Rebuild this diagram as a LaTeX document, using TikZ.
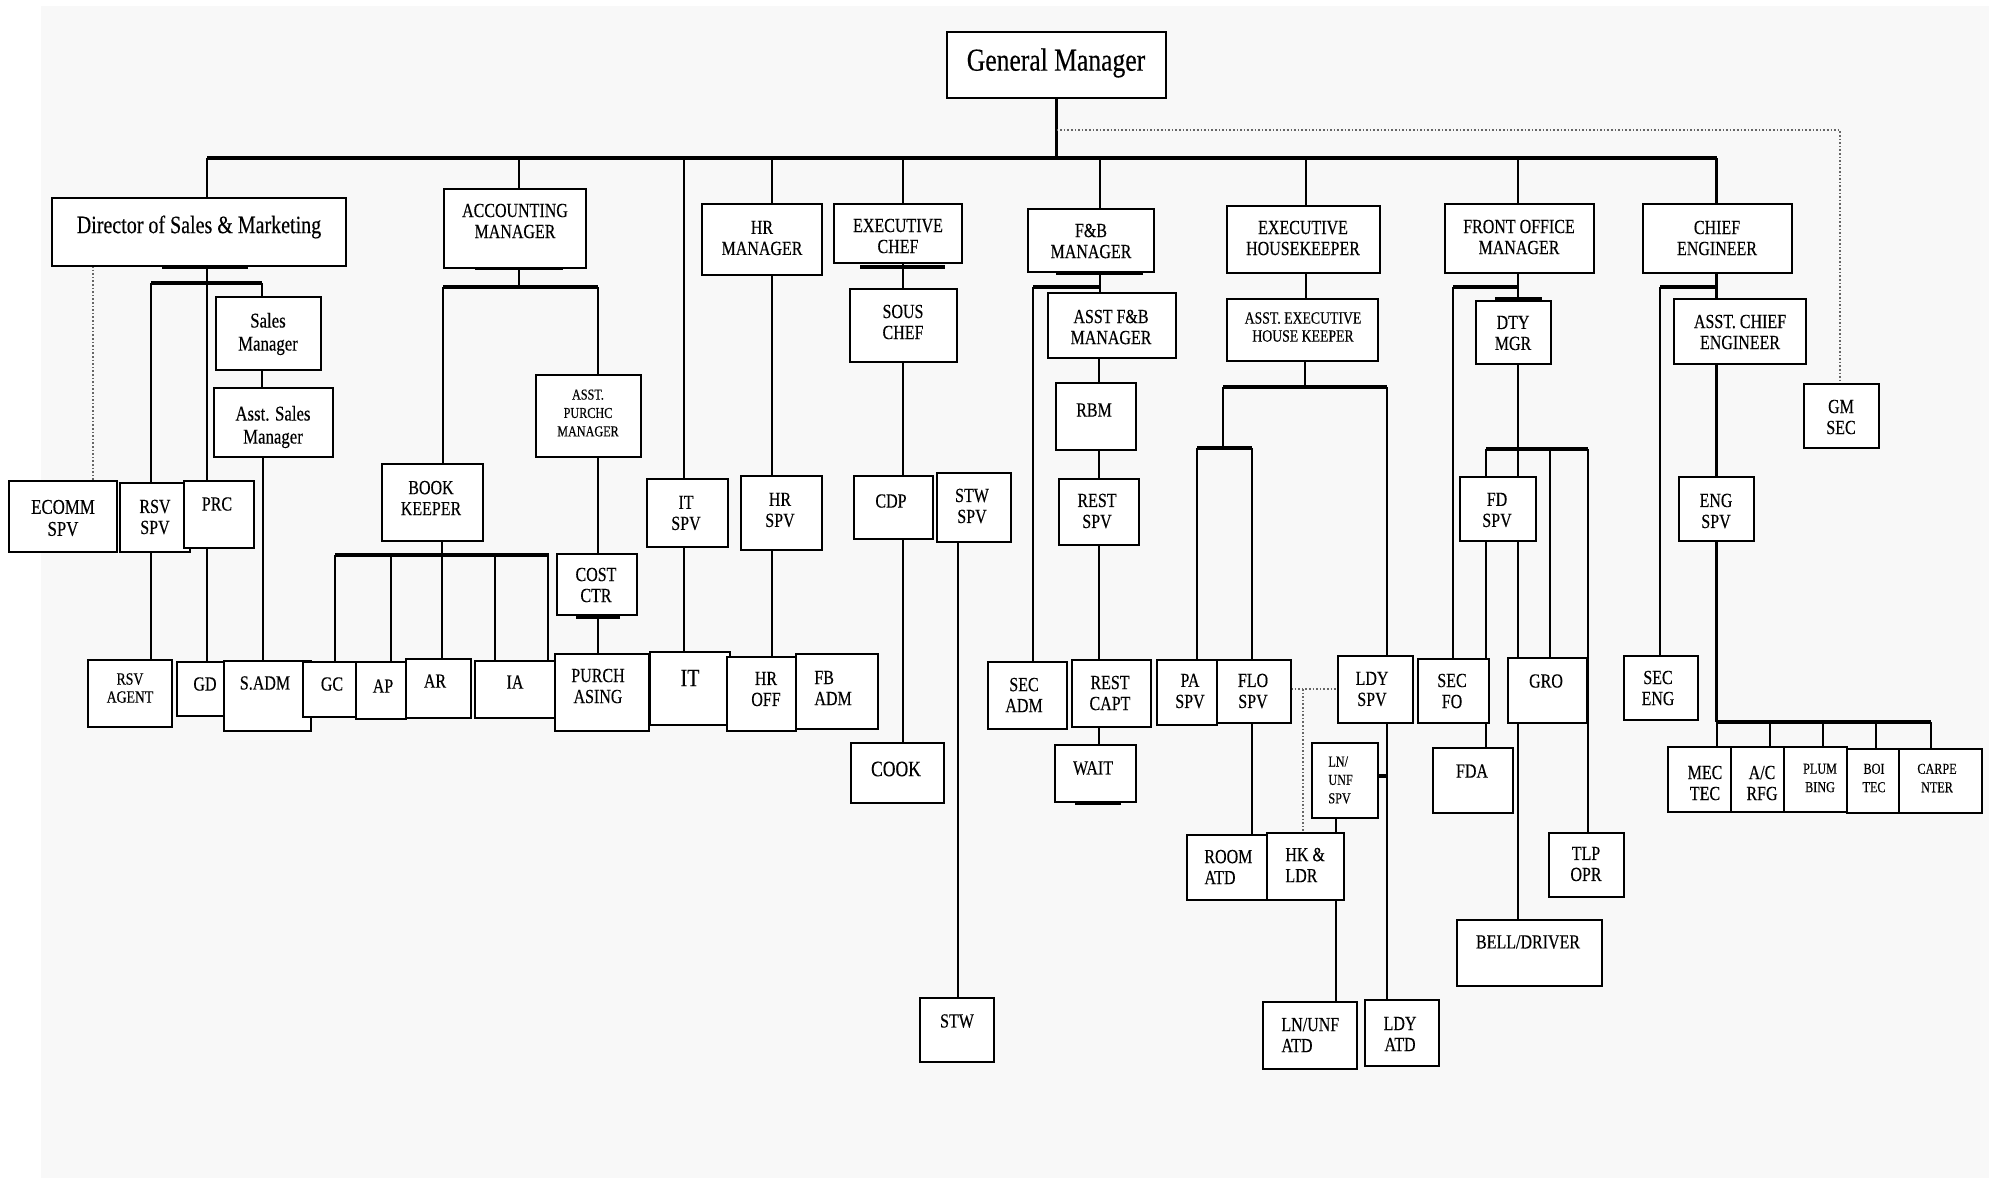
\documentclass[tikz,border=0pt]{standalone}
\usepackage{fontspec}
\setmainfont{Liberation Serif}[FakeStretch=0.8,FakeBold=0.3]
\pgfdeclarelayer{back}
\pgfdeclarelayer{wires}
\pgfsetlayers{back,wires,main}
\definecolor{bgc}{RGB}{248,248,248}
\tikzset{
 box/.style={draw=black,line width=1pt,fill=white,inner sep=0pt,outer sep=0pt,rectangle},
 lbl/.style={inner sep=0pt,align=center,font=\fontsize{10}{10.5}\selectfont},
 sml/.style={font=\fontsize{8.6}{9}\selectfont},
 tny/.style={font=\fontsize{7.6}{9.2}\selectfont},
 lft/.style={align=left,anchor=west},
 ln/.style={line width=1.3pt},
 busln/.style={line width=1.8pt},
 bar/.style={line width=2.3pt},
 dot/.style={line width=0.8pt,densely dotted,black!60},
}
\newcommand\bx[9][]{%
  \pgfmathsetmacro\bxw{(#5-#3)*0.5}%
  \pgfmathsetmacro\bxh{(#6-#4)*0.5}%
  \node[box,minimum width=\bxw pt,minimum height=\bxh pt] (#2) at ({(#3+#5)/2},{(#4+#6)/2}) {};%
  \node[lbl,#1] (#2-t) at (#7,#8) {#9};%
}
\begin{document}
\begin{tikzpicture}[x=0.5pt,y=-0.5pt]
\useasboundingbox (0,0) rectangle (1989,1180);
\begin{pgfonlayer}{back}
\fill[white] (0,0) rectangle (1989,1180);
\fill[bgc] (41,6) rectangle (1989,1178);
\end{pgfonlayer}
% top level
\bx[font=\fontsize{16}{17}\selectfont]{gm}{947}{32}{1166}{98}{1056}{63}{General Manager}
\bx[font=\fontsize{12.5}{13}\selectfont]{dsm}{52}{198}{346}{266}{199}{227}{Director of Sales \& Marketing}
\bx{acc}{444}{189}{586}{268}{515}{221}{ACCOUNTING\\MANAGER}
\bx{hrm}{702}{204}{822}{275}{762}{238}{HR\\MANAGER}
\bx{chef}{834}{204}{962}{263}{898}{236}{EXECUTIVE\\CHEF}
\bx{fbm}{1028}{209}{1154}{272}{1091}{241}{F\&B\\MANAGER}
\bx{exhk}{1227}{206}{1380}{273}{1303}{238}{EXECUTIVE\\HOUSEKEEPER}
\bx{fom}{1445}{204}{1594}{273}{1519}{237}{FRONT OFFICE\\MANAGER}
\bx{ce}{1643}{204}{1792}{273}{1717}{238}{CHIEF\\ENGINEER}
\bx{gmsec}{1804}{384}{1879}{448}{1841}{417}{GM\\SEC}
% sales
\bx[font=\fontsize{10.5}{11.5}\selectfont]{sm}{216}{297}{321}{370}{268}{334}{Sales\\Manager}
\bx[font=\fontsize{10.5}{11.5}\selectfont]{asm}{214}{388}{333}{457}{273}{427}{Asst. Sales\\Manager}
\bx[font=\fontsize{10.5}{11}\selectfont]{ecomm}{9}{481}{117}{552}{63}{518}{ECOMM\\SPV}
\bx{rsvspv}{120}{483}{190}{552}{155}{517}{RSV\\SPV}
\bx{prc}{184}{481}{254}{548}{217}{504}{PRC}
\bx[sml]{rsvag}{88}{660}{172}{727}{130}{688}{RSV\\AGENT}
\bx{gd}{177}{662}{228}{716}{205}{684}{GD}
\bx{sadm}{224}{661}{311}{731}{265}{683}{S.ADM}
% accounting
\bx{gc}{303}{662}{356}{717}{332}{684}{GC}
\bx{ap}{356}{662}{406}{719}{383}{686}{AP}
\bx{ar}{406}{659}{471}{718}{435}{681}{AR}
\bx{ia}{475}{661}{555}{718}{515}{682}{IA}
\bx{purch}{555}{654}{649}{731}{598}{686}{PURCH\\ASING}
\bx[tny]{apm}{536}{375}{641}{457}{588}{413}{ASST.\\PURCHC\\MANAGER}
\bx{bk}{382}{464}{483}{541}{431}{498}{BOOK\\KEEPER}
\bx{cost}{557}{554}{637}{615}{596}{585}{COST\\CTR}
% IT, HR
\bx{itspv}{647}{479}{728}{547}{686}{513}{IT\\SPV}
\bx[font=\fontsize{12.5}{13}\selectfont]{it}{650}{652}{730}{725}{690}{678}{IT}
\bx{hrspv}{741}{476}{822}{550}{780}{510}{HR\\SPV}
\bx{hroff}{727}{657}{796}{731}{766}{689}{HR\\OFF}
\bx[lft]{fbadm}{796}{654}{878}{729}{814}{688}{FB\\ADM}
% kitchen
\bx{sous}{850}{289}{957}{362}{903}{322}{SOUS\\CHEF}
\bx{cdp}{854}{476}{933}{539}{891}{501}{CDP}
\bx{stwspv}{937}{473}{1011}{542}{972}{506}{STW\\SPV}
\bx[font=\fontsize{11}{12}\selectfont]{cook}{851}{743}{944}{803}{896}{769}{COOK}
\bx{stw}{920}{998}{994}{1062}{957}{1021}{STW}
% F&B
\bx{afb}{1048}{293}{1176}{358}{1111}{327}{ASST F\&B\\MANAGER}
\bx{rbm}{1056}{383}{1136}{450}{1094}{410}{RBM}
\bx{restspv}{1059}{479}{1139}{545}{1097}{511}{REST\\SPV}
\bx{secadm}{988}{662}{1067}{729}{1024}{695}{SEC\\ADM}
\bx{restcapt}{1072}{660}{1151}{727}{1110}{693}{REST\\CAPT}
\bx{wait}{1055}{745}{1136}{802}{1093}{768}{WAIT}
% housekeeping
\bx[sml]{aexhk}{1227}{299}{1378}{361}{1303}{327}{ASST. EXECUTIVE\\HOUSE KEEPER}
\bx{paspv}{1157}{660}{1217}{725}{1190}{691}{PA\\SPV}
\bx{flospv}{1217}{660}{1291}{723}{1253}{691}{FLO\\SPV}
\bx{ldyspv}{1338}{656}{1413}{723}{1372}{689}{LDY\\SPV}
\bx[lft]{room}{1187}{835}{1267}{900}{1204}{867}{ROOM\\ATD}
\bx[lft]{hkldr}{1267}{833}{1344}{900}{1285}{865}{HK \&\\LDR}
\bx[tny,lft]{lnspv}{1312}{743}{1378}{818}{1328}{780}{LN/\\UNF\\SPV}
\bx[lft]{lnatd}{1263}{1002}{1357}{1069}{1281}{1035}{LN/UNF\\ATD}
\bx{ldyatd}{1365}{1000}{1439}{1066}{1400}{1034}{LDY\\ATD}
% front office
\bx{secfo}{1418}{659}{1489}{723}{1452}{691}{SEC\\FO}
\bx{gro}{1508}{658}{1587}{723}{1546}{681}{GRO}
\bx{dty}{1476}{301}{1551}{364}{1513}{333}{DTY\\MGR}
\bx{fdspv}{1460}{477}{1536}{541}{1497}{510}{FD\\SPV}
\bx{fda}{1433}{748}{1513}{813}{1472}{771}{FDA}
\bx{tlp}{1549}{833}{1624}{897}{1586}{864}{TLP\\OPR}
\bx{bell}{1457}{920}{1602}{986}{1528}{942}{BELL/DRIVER}
% engineering
\bx{seceng}{1624}{656}{1698}{720}{1658}{688}{SEC\\ENG}
\bx{ace}{1674}{299}{1806}{364}{1740}{332}{ASST. CHIEF\\ENGINEER}
\bx{engspv}{1679}{477}{1754}{541}{1716}{511}{ENG\\SPV}
\bx{mec}{1668}{747}{1731}{812}{1705}{783}{MEC\\TEC}
\bx{acrfg}{1731}{747}{1784}{812}{1762}{783}{A/C\\RFG}
\bx[tny]{plum}{1784}{747}{1847}{812}{1820}{778}{PLUM\\BING}
\bx[tny]{boi}{1847}{749}{1899}{813}{1874}{778}{BOI\\TEC}
\bx[tny]{carp}{1899}{749}{1982}{813}{1937}{778}{CARPE\\NTER}

\begin{pgfonlayer}{wires}
% GM and bus
\coordinate (busL) at (207,158);
\coordinate (busR) at (1716.5,158);
\draw[ln] (gm.south) -- (gm.south |- busL);
\draw[busln] (busL) -- (busR);
\draw[dot] (gm.south |- 0,130) -- (1840,130) -- (gmsec.north -| 1840,0);
\draw[ln] (busL) -- (dsm.north -| busL);
\draw[ln] (519,158) -- (acc.north -| 519,0);
\draw[ln] (684,158) -- (itspv.north -| 684,0);
\draw[ln] (772,158) -- (hrm.north -| 772,0);
\draw[ln] (903,158) -- (chef.north -| 903,0);
\draw[ln] (1100,158) -- (fbm.north -| 1100,0);
\draw[ln] (1306,158) -- (exhk.north -| 1306,0);
\draw[ln] (1518,158) -- (fom.north -| 1518,0);
\draw[ln] (busR) -- (ce.north -| busR);
% sales
\draw[bar] (162,267) -- (248,267);
\draw[ln] (dsm.south -| 207,0) -- (prc.north -| 207,0);
\draw[bar] (151,283) -- (262,283);
\draw[ln] (151,283) -- (rsvspv.north -| 151,0);
\draw[ln] (262,283) -- (sm.north -| 262,0);
\draw[ln] (sm.south -| 262,0) -- (asm.north -| 262,0);
\draw[ln] (asm.south -| 263,0) -- (sadm.north -| 263,0);
\draw[ln] (prc.south -| 207,0) -- (gd.north -| 207,0);
\draw[ln] (rsvspv.south -| 151,0) -- (rsvag.north -| 151,0);
\draw[dot] (dsm.south -| 93,0) -- (ecomm.north -| 93,0);
% accounting
\draw[bar] (475,268) -- (563,268);
\draw[ln] (acc.south -| 519,0) -- (519,287);
\draw[bar] (443,287) -- (598,287);
\draw[ln] (443,287) -- (bk.north -| 443,0);
\draw[ln] (598,287) -- (apm.north -| 598,0);
\draw[ln] (apm.south -| 598,0) -- (cost.north -| 598,0);
\draw[bar] (576,617) -- (620,617);
\draw[ln] (cost.south -| 598,0) -- (purch.north -| 598,0);
\draw[ln] (bk.south -| 442,0) -- (442,555);
\draw[bar] (335,555) -- (549,555);
\foreach \x/\n in {335/gc,391/ap,442/ar,495/ia,548/ia}
  \draw[ln] (\x,555) -- (\n.north -| \x,0);
% IT, HR
\draw[ln] (itspv.south -| 684,0) -- (it.north -| 684,0);
\draw[ln] (hrm.south -| 772,0) -- (hrspv.north -| 772,0);
\draw[ln] (hrspv.south -| 772,0) -- (hroff.north -| 772,0);
% kitchen
\draw[bar] (860,267) -- (945,267);
\draw[ln] (chef.south -| 903,0) -- (sous.north -| 903,0);
\draw[ln] (sous.south -| 903,0) -- (cdp.north -| 903,0);
\draw[ln] (cdp.south -| 903,0) -- (cook.north -| 903,0);
\draw[ln] (stwspv.south -| 958,0) -- (stw.north -| 958,0);
% F&B
\draw[bar] (1056,273) -- (1143,273);
\draw[ln] (fbm.south -| 1100,0) -- (afb.north -| 1100,0);
\draw[bar] (1033,287) -- (1100,287);
\draw[ln] (1033,287) -- (secadm.north -| 1033,0);
\draw[ln] (afb.south -| 1099,0) -- (rbm.north -| 1099,0);
\draw[ln] (rbm.south -| 1099,0) -- (restspv.north -| 1099,0);
\draw[ln] (restspv.south -| 1099,0) -- (restcapt.north -| 1099,0);
\draw[ln] (restcapt.south -| 1099,0) -- (wait.north -| 1099,0);
\draw[bar] (1075,803) -- (1121,803);
% housekeeping
\draw[ln] (exhk.south -| 1306,0) -- (aexhk.north -| 1306,0);
\draw[ln] (aexhk.south -| 1305,0) -- (1305,387);
\draw[bar] (1223,387) -- (1387,387);
\draw[ln] (1223,387) -- (1223,448);
\draw[bar] (1197,448) -- (1252,448);
\draw[ln] (1197,448) -- (paspv.north -| 1197,0);
\draw[ln] (1252,448) -- (flospv.north -| 1252,0);
\draw[ln] (1387,387) -- (ldyspv.north -| 1387,0);
\draw[dot] (flospv.east |- 0,689) -- (ldyspv.west |- 0,689);
\draw[dot] (1303,689) -- (hkldr.north -| 1303,0);
\draw[ln] (flospv.south -| 1252,0) -- (room.north -| 1252,0);
\draw[ln] (lnspv.south -| 1336,0) -- (hkldr.north -| 1336,0);
\draw[ln] (hkldr.south -| 1336,0) -- (lnatd.north -| 1336,0);
\draw[ln] (ldyspv.south -| 1387,0) -- (ldyatd.north -| 1387,0);
\draw[bar] (lnspv.east |- 0,776) -- (1387,776);
% front office
\draw[ln] (fom.south -| 1518,0) -- (dty.north -| 1518,0);
\draw[bar] (1453,287) -- (1518,287);
\draw[ln] (1453,287) -- (secfo.north -| 1453,0);
\draw[bar] (1495,299) -- (1542,299);
\draw[ln] (dty.south -| 1518,0) -- (1518,449);
\draw[bar] (1486,449) -- (1588,449);
\draw[ln] (1486,449) -- (fdspv.north -| 1486,0);
\draw[ln] (1518,449) -- (fdspv.north -| 1518,0);
\draw[ln] (1550,449) -- (gro.north -| 1550,0);
\draw[ln] (1588,449) -- (tlp.north -| 1588,0);
\draw[ln] (fdspv.south -| 1486,0) -- (fda.north -| 1486,0);
\draw[ln] (fdspv.south -| 1518,0) -- (gro.north -| 1518,0);
\draw[ln] (gro.south -| 1518,0) -- (bell.north -| 1518,0);
% engineering
\draw[ln] (ce.south -| busR) -- (ace.north -| busR);
\draw[bar] (1660,287) -- (1716.5,287);
\draw[ln] (1660,287) -- (seceng.north -| 1660,0);
\draw[ln] (ace.south -| busR) -- (engspv.north -| busR);
\draw[ln] (engspv.south -| busR) -- (1716.5,722);
\draw[bar] (1716.5,722) -- (1931,722);
\foreach \x/\n in {1717/mec,1770/acrfg,1823/plum,1876/boi,1931/carp}
  \draw[ln] (\x,722) -- (\n.north -| \x,0);
\end{pgfonlayer}
\end{tikzpicture}
\end{document}
